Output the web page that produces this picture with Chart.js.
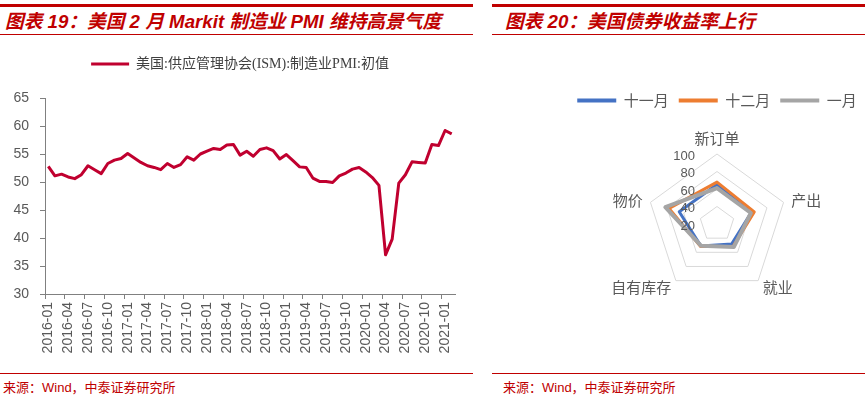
<!DOCTYPE html>
<html>
<head>
<meta charset="utf-8">
<script src="https://cdn.jsdelivr.net/npm/chart.js@4.4.1/dist/chart.umd.min.js"></script>
<style>
  html, body { margin: 0; padding: 0; background: #fff; }
  body { width: 865px; height: 401px; position: relative; overflow: hidden; font-family: 'Liberation Sans', 'Noto Sans CJK SC', sans-serif; }
  .bar { position: absolute; top: 4px; height: 3px; background: #C00000; }
  .rule { position: absolute; height: 1px; background: #C00000; }
  .title { position: absolute; top: 10px; height: 24px; line-height: 24px; font-size: 18.7px; font-weight: bold; font-style: italic; color: #C00000; white-space: nowrap; }
  .source { position: absolute; top: 380px; font-size: 13px; line-height: 15px; color: #C00000; white-space: nowrap; }
  .box { position: absolute; }
</style>
</head>
<body>
  <!-- left panel -->
  <div class="bar" style="left:0; width:473px;"></div>
  <div class="title" style="left:5px;">图表 19：美国 2 月 Markit 制造业 PMI 维持高景气度</div>
  <div class="rule" style="left:0; width:473px; top:34px;"></div>
  <div class="box" style="left:0; top:47px; width:480px; height:323px;"><canvas id="pmi-chart"></canvas></div>
  <div class="rule" style="left:0; width:473px; top:373px;"></div>
  <div class="source" style="left:3px;">来源：Wind，中泰证券研究所</div>

  <!-- right panel -->
  <div class="bar" style="left:492px; width:373px;"></div>
  <div class="title" style="left:505px;">图表 20：美国债券收益率上行</div>
  <div class="rule" style="left:492px; width:373px; top:34px;"></div>
  <div class="box" style="left:562px; top:83px; width:310px; height:226px;"><canvas id="radar-chart"></canvas></div>
  <div class="rule" style="left:492px; width:373px; top:373px;"></div>
  <div class="source" style="left:503px;">来源：Wind，中泰证券研究所</div>

<script>
// Markit US manufacturing PMI (flash), monthly
const months = [
  '2016-01','2016-02','2016-03','2016-04','2016-05','2016-06','2016-07','2016-08','2016-09','2016-10','2016-11','2016-12',
  '2017-01','2017-02','2017-03','2017-04','2017-05','2017-06','2017-07','2017-08','2017-09','2017-10','2017-11','2017-12',
  '2018-01','2018-02','2018-03','2018-04','2018-05','2018-06','2018-07','2018-08','2018-09','2018-10','2018-11','2018-12',
  '2019-01','2019-02','2019-03','2019-04','2019-05','2019-06','2019-07','2019-08','2019-09','2019-10','2019-11','2019-12',
  '2020-01','2020-02','2020-03','2020-04','2020-05','2020-06','2020-07','2020-08','2020-09','2020-10','2020-11','2020-12',
  '2021-01','2021-02'
];
const pmiValues = [
  52.8, 51.1, 51.4, 50.9, 50.6, 51.3, 52.9, 52.2, 51.5, 53.3, 53.9, 54.2,
  55.1, 54.3, 53.5, 52.9, 52.6, 52.2, 53.3, 52.6, 53.1, 54.5, 53.9, 55.0,
  55.5, 56.0, 55.8, 56.6, 56.7, 54.8, 55.5, 54.6, 55.8, 56.1, 55.6, 54.1,
  54.9, 53.8, 52.7, 52.6, 50.7, 50.1, 50.1, 49.9, 51.1, 51.6, 52.3, 52.6,
  51.8, 50.8, 49.4, 37.0, 39.8, 49.8, 51.3, 53.6, 53.5, 53.4, 56.7, 56.5,
  59.2, 58.6
];
const pmiLabel = '美国:供应管理协会(ISM):制造业PMI:初值';
const pmiAxis = { min: 30, max: 65, step: 5 };

// Radar: ISM sub-indices
const radarCategories = ['新订单', '产出', '就业', '自有库存', '物价'];
const novValues = [65.1, 60.8, 48.4, 51.2, 65.4];
const decValues = [67.9, 64.8, 51.5, 51.8, 77.6];
const janValues = [61.1, 60.7, 52.6, 50.8, 82.1];
const radarSeriesNames = ['十一月', '十二月', '一月'];
const radarAxis = { min: 20, max: 100, step: 20 };

const AXIS_GREY = '#808080';
const TEXT_GREY = '#595959';

Chart.defaults.font.family = "'Liberation Sans', 'Noto Sans CJK SC', sans-serif";
Chart.defaults.animation = false;

// Line chart
new Chart(document.getElementById('pmi-chart'), {
  type: 'line',
  data: {
    labels: months,
    datasets: [{
      label: pmiLabel,
      data: pmiValues,
      borderColor: '#C0002F',
      backgroundColor: '#C0002F',
      borderWidth: 3,
      pointRadius: 0,
      tension: 0,
      borderJoinStyle: 'round',
      fill: false,
    }]
  },
  options: {
    responsive: true,
    maintainAspectRatio: false,
    layout: { padding: 0 },
    plugins: {
      tooltip: { enabled: false },
      legend: {
        position: 'top',
        labels: {
          usePointStyle: true,
          pointStyle: 'line',
          pointStyleWidth: 38,
          padding: 10,
          color: '#404040',
          font: { family: "'Liberation Serif', 'Noto Sans CJK SC', serif", size: 14 },
        }
      },
      // spacer between legend and plot
      subtitle: {
        display: true,
        text: '',
        weight: 500,
        font: { size: 1, lineHeight: 1 },
        padding: { top: 0, bottom: 16 },
      }
    },
    scales: {
      x: {
        offset: true,
        afterFit: (scale) => { scale.height = 76; },
        border: { display: true, color: AXIS_GREY },
        grid: {
          offset: true,
          drawOnChartArea: false,
          tickLength: 5,
          color: (ctx) => (ctx.index % 3 === 0 ? AXIS_GREY : 'rgba(0,0,0,0)'),
        },
        ticks: {
          autoSkip: false,
          maxRotation: 90,
          minRotation: 90,
          padding: 3,
          color: TEXT_GREY,
          font: { size: 14 },
          callback: (value, index) => (index % 3 === 0 ? months[index] : ''),
        }
      },
      y: {
        min: pmiAxis.min,
        max: pmiAxis.max,
        afterFit: (scale) => { scale.width = 45; },
        border: { display: true, color: AXIS_GREY },
        grid: { drawOnChartArea: false, tickLength: 5, color: AXIS_GREY },
        ticks: {
          stepSize: pmiAxis.step,
          padding: 11,
          color: TEXT_GREY,
          font: { size: 14 },
        }
      },
      // empty right margin so the plot ends where the original does
      gap: {
        position: 'right',
        display: true,
        afterFit: (scale) => { scale.width = 25; },
        grid: { display: false },
        border: { display: false },
        ticks: { display: false },
      }
    }
  }
});

// Radar labels placed the way the original spreadsheet chart places them
const radarText = {
  id: 'radarText',
  afterDatasetsDraw(chart) {
    const scale = chart.scales.r;
    const ctx = chart.ctx;
    ctx.save();
    ctx.fillStyle = TEXT_GREY;
    ctx.textBaseline = 'middle';

    // radial tick values, left of the top spoke
    ctx.font = "13px 'Liberation Sans', sans-serif";
    ctx.textAlign = 'right';
    scale.ticks.forEach((tick) => {
      const d = scale.getDistanceFromCenterForValue(tick.value);
      ctx.fillText(String(tick.value), scale.xCenter - 22, scale.yCenter - d + 2);
    });

    // category names
    ctx.font = "15px 'Noto Sans CJK SC', sans-serif";
    chart.data.labels.forEach((label, i) => {
      const pos = scale.getPointPosition(i, scale.drawingArea + 8);
      const dx = pos.x - scale.xCenter;
      ctx.textAlign = Math.abs(dx) < 1 ? 'center' : (dx > 0 ? 'left' : 'right');
      const y = Math.abs(dx) < 1 ? pos.y - 8 : pos.y;
      ctx.fillText(label, pos.x, y);
    });
    ctx.restore();
  }
};

const radarColors = ['#4472C4', '#ED7D31', '#A5A5A5'];
const radarWidths = [3, 3, 4];
const radarData = [novValues, decValues, janValues];

new Chart(document.getElementById('radar-chart'), {
  type: 'radar',
  data: {
    labels: radarCategories,
    datasets: radarData.map((vals, i) => ({
      label: radarSeriesNames[i],
      data: vals,
      borderColor: radarColors[i],
      backgroundColor: radarColors[i],
      borderWidth: radarWidths[i],
      borderJoinStyle: 'round',
      pointRadius: 0,
      fill: false,
      order: 3 - i,
    }))
  },
  options: {
    responsive: true,
    maintainAspectRatio: false,
    layout: { padding: 0 },
    plugins: {
      tooltip: { enabled: false },
      legend: {
        position: 'top',
        labels: {
          usePointStyle: true,
          pointStyle: 'line',
          pointStyleWidth: 39,
          padding: 10,
          color: TEXT_GREY,
          font: { family: "'Noto Sans CJK SC', sans-serif", size: 15 },
          sort: (a, b) => a.datasetIndex - b.datasetIndex,
          generateLabels: (chart) => Chart.defaults.plugins.legend.labels.generateLabels(chart)
            .map((item) => Object.assign(item, { lineWidth: 4 })),
        }
      },
      subtitle: {
        display: true,
        text: '',
        weight: 500,
        font: { size: 1, lineHeight: 1 },
        padding: { top: 0, bottom: 4 },
      }
    },
    scales: {
      r: {
        min: radarAxis.min,
        max: radarAxis.max,
        angleLines: { display: false },
        grid: { circular: false, color: '#D9D9D9', lineWidth: 1 },
        ticks: { display: false, stepSize: radarAxis.step },
        pointLabels: {
          // kept for sizing the plot; the names are drawn by radarText
          color: 'rgba(0,0,0,0)',
          padding: 5,
          font: { family: "'Noto Sans CJK SC', sans-serif", size: 15 },
        }
      }
    }
  },
  plugins: [radarText]
});
</script>
</body>
</html>
